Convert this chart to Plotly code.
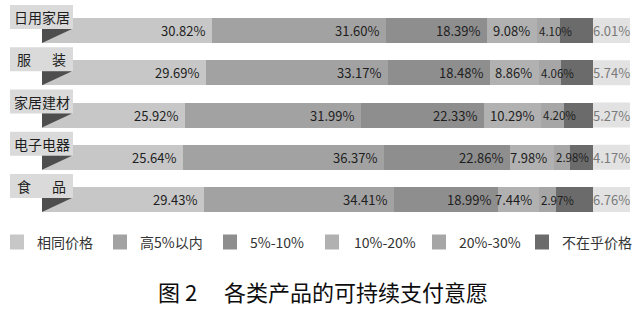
import plotly.graph_objects as go

# Product categories (top to bottom)
categories = ["日用家居", "服\u2003\u2002装", "家居建材", "电子电器", "食\u2003\u2002品"]

# Willingness-to-pay tiers
series_names = ["相同价格", "高5%以内", "5%-10%", "10%-20%", "20%-30%", "不在乎价格"]

# Percentages per tier, one entry per category
same_price = [30.82, 29.69, 25.92, 25.64, 29.43]
up_to_5 = [31.60, 33.17, 31.99, 36.37, 34.41]
pct_5_10 = [18.39, 18.48, 22.33, 22.86, 18.99]
pct_10_20 = [9.08, 8.86, 10.29, 7.98, 7.44]
pct_20_30 = [4.10, 4.06, 4.20, 2.98, 2.97]
dont_care = [6.01, 5.74, 5.27, 4.17, 6.76]

series_values = [same_price, up_to_5, pct_5_10, pct_10_20, pct_20_30, dont_care]
series_colors = ["#c7c7c7", "#a2a2a2", "#8e8e8e", "#b1b1b1", "#a6a6a6", "#6b6b6b"]

title_text = "图 2\u3000 各类产品的可持续支付意愿"

W, H = 641, 309
FONT = "Noto Sans CJK SC"
NARROW = "Liberation Sans Narrow, Noto Sans CJK SC"

# pixel geometry of the drawing area
bar_left_px, bar_right_px = 42.0, 593.0
row0_center_px, row_step_px, bar_h_px = 30.5, 42.25, 25.0
ppu = (bar_right_px - bar_left_px) / 100.0
x_range = [-bar_left_px / ppu, (W - bar_left_px) / ppu]
y_range = [(H - row0_center_px) / row_step_px, -row0_center_px / row_step_px]


def dx(px):
    return (px - bar_left_px) / ppu


def dy(px):
    return px / row_step_px


rows = list(range(len(categories)))
fig = go.Figure()

for name, vals, col in zip(series_names, series_values, series_colors):
    fig.add_trace(go.Bar(
        y=rows, x=vals, orientation="h", name=name,
        marker=dict(color=col, line=dict(width=0)),
        width=bar_h_px / row_step_px, showlegend=False, hoverinfo="skip",
    ))

shapes = []
annotations = []
half = dy(bar_h_px / 2)

for i, cat in enumerate(categories):
    # category tab above the bar, with a dark folded corner beneath it
    box_top = i - dy(25.5)
    box_bot = i - dy(1.5)
    shapes.append(dict(type="rect", xref="x", yref="y", x0=dx(10), x1=dx(73),
                       y0=box_top, y1=box_bot, fillcolor="#dadada",
                       line=dict(width=0), layer="above"))
    shapes.append(dict(type="path", xref="x", yref="y",
                       path=f"M {0} {box_bot} L {dx(72)} {box_bot} L {0} {i + half} Z",
                       fillcolor="#4e4e4e", line=dict(width=0), layer="above"))
    annotations.append(dict(x=dx(41.5), y=(box_top + box_bot) / 2, xref="x", yref="y",
                            text=cat, showarrow=False, xanchor="center", yanchor="middle",
                            font=dict(family=FONT, size=14, color="#1e1e1e")))

    # value labels for the first five tiers
    cum = 0.0
    for s in range(5):
        v = series_values[s][i]
        start, end = cum, cum + v
        cum = end
        if v < 5:
            annotations.append(dict(x=start, y=i, xref="x", yref="y", text=f"{v:.2f}%",
                                    showarrow=False, xanchor="left", yanchor="middle",
                                    xshift=0, font=dict(family=NARROW, size=11.5, color="#1e1e1e")))
        else:
            annotations.append(dict(x=end, y=i, xref="x", yref="y", text=f"{v:.2f}%",
                                    showarrow=False, xanchor="right", yanchor="middle",
                                    xshift=-5, font=dict(family=FONT, size=13, color="#1e1e1e")))

    # last tier's value shown in a pale box at the bar's end
    total = sum(series_values[s][i] for s in range(6))
    shapes.append(dict(type="rect", xref="x", yref="y", x0=total, x1=dx(630),
                       y0=i - half, y1=i + half, fillcolor="#e2e2e2",
                       line=dict(width=0), layer="below"))
    annotations.append(dict(x=(total + dx(630)) / 2, y=i, xref="x", yref="y",
                            text=f"{dont_care[i]:.2f}%", showarrow=False,
                            xanchor="center", yanchor="middle",
                            font=dict(family=FONT, size=13, color="#7a7a7a")))

# legend row
legend_sq_x = [10, 113, 223, 325, 432, 535]
legend_txt_x = [35, 138, 248, 352, 457, 560]
leg_y = 242
for name, col, sx, tx in zip(series_names, series_colors, legend_sq_x, legend_txt_x):
    shapes.append(dict(type="rect", xref="paper", yref="paper",
                       x0=sx / W, x1=(sx + 14) / W,
                       y0=1 - (leg_y + 7.5) / H, y1=1 - (leg_y - 7.5) / H,
                       fillcolor=col, line=dict(width=0)))
    annotations.append(dict(x=tx / W, y=1 - leg_y / H, xref="paper", yref="paper",
                            text=name, showarrow=False, xanchor="left", yanchor="middle",
                            font=dict(family=FONT, size=14, color="#333333")))

# figure caption
annotations.append(dict(x=322.5 / W, y=1 - 291 / H, xref="paper", yref="paper",
                        text=title_text, showarrow=False, xanchor="center", yanchor="middle",
                        font=dict(family=FONT, size=22, color="#0d0d0d")))

fig.update_layout(
    width=W, height=H,
    margin=dict(l=0, r=0, t=0, b=0),
    barmode="stack",
    bargap=0,
    paper_bgcolor="white", plot_bgcolor="white",
    xaxis=dict(range=x_range, visible=False, fixedrange=True),
    yaxis=dict(range=y_range, visible=False, fixedrange=True),
    shapes=shapes, annotations=annotations,
    showlegend=False,
)

fig.write_html("out.html", config={"displayModeBar": False})
